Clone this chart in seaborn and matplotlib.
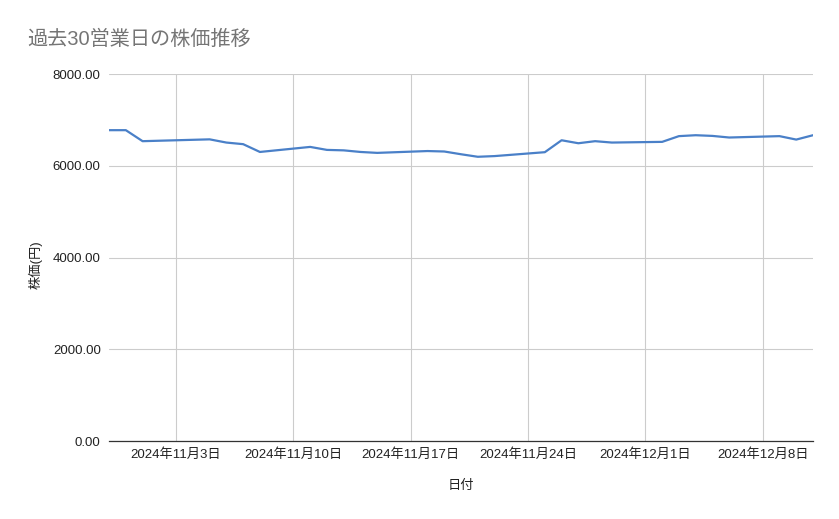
import seaborn as sns
import matplotlib.pyplot as plt
import pandas as pd

# 30 business days (Japan)
dates = ["2024-10-30", "2024-10-31", "2024-11-01", "2024-11-05", "2024-11-06",
         "2024-11-07", "2024-11-08", "2024-11-11", "2024-11-12", "2024-11-13",
         "2024-11-14", "2024-11-15", "2024-11-18", "2024-11-19", "2024-11-20",
         "2024-11-21", "2024-11-22", "2024-11-25", "2024-11-26", "2024-11-27",
         "2024-11-28", "2024-11-29", "2024-12-02", "2024-12-03", "2024-12-04",
         "2024-12-05", "2024-12-06", "2024-12-09", "2024-12-10", "2024-12-11"]
prices = [6780, 6780, 6540, 6580, 6510, 6475, 6305, 6415, 6350, 6340,
          6305, 6285, 6325, 6315, 6255, 6200, 6215, 6300, 6560, 6495,
          6540, 6510, 6525, 6650, 6670, 6655, 6620, 6650, 6575, 6670]

tick_dates = ["2024-11-03", "2024-11-10", "2024-11-17", "2024-11-24",
              "2024-12-01", "2024-12-08"]
y_ticks = [0, 2000, 4000, 6000, 8000]

title = "過去30営業日の株価推移"
x_label = "日付"
y_label = "株価(円)"


def main():
    sns.set_theme(style="white")
    plt.rcParams['font.family'] = ['Liberation Sans', 'Noto Sans CJK JP', 'DejaVu Sans']

    df = pd.DataFrame({"date": pd.to_datetime(dates), "price": prices})
    ticks = pd.to_datetime(tick_dates)

    fig = plt.figure(figsize=(8.39, 5.19), dpi=100)
    ax = fig.add_axes([0.130, 0.150, 0.839, 0.707])

    sns.lineplot(data=df, x="date", y="price", ax=ax, color="#4a80c8",
                 linewidth=1.6, zorder=3)

    ax.set_xlim(df["date"].iloc[0], df["date"].iloc[-1])
    ax.set_ylim(0, 8000)

    ax.set_xticks(ticks)
    ax.set_xticklabels([f"{d.year}年{d.month}月{d.day}日" for d in ticks],
                       fontsize=9.5, color="#222222")
    ax.set_yticks(y_ticks)
    ax.set_yticklabels([f"{v:.2f}" for v in y_ticks], fontsize=9.5, color="#222222")

    ax.grid(True, color="#cccccc", linewidth=0.8)
    ax.tick_params(axis="both", length=0)
    ax.tick_params(axis="x", pad=5)
    ax.tick_params(axis="y", pad=6)

    for side in ["top", "right", "left"]:
        ax.spines[side].set_visible(False)
    ax.spines["bottom"].set_color("#333333")
    ax.spines["bottom"].set_linewidth(0.9)
    ax.spines["bottom"].set_zorder(4)

    ax.set_xlabel(x_label, fontsize=9.5, color="#222222", labelpad=14)
    ax.set_ylabel(y_label, fontsize=9.5, color="#222222")
    ax.yaxis.set_label_coords(-0.095, 0.48)

    fig.text(0.032, 0.925, title, fontsize=14.5, color="#757575",
             ha="left", va="center")

    fig.savefig("out.png", dpi=100)


if __name__ == "__main__":
    main()
